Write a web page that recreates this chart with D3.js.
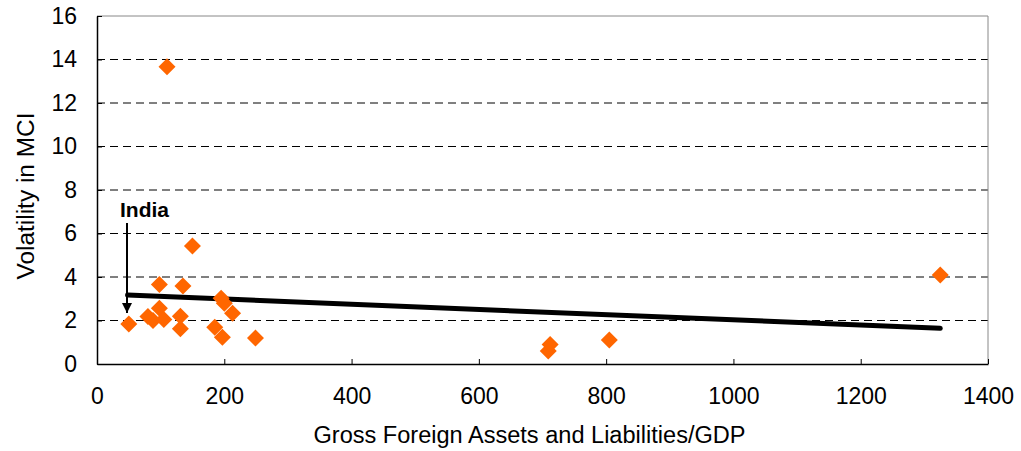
<!DOCTYPE html>
<html>
<head>
<meta charset="utf-8">
<script src="https://cdn.jsdelivr.net/npm/d3@7"></script>
<style>
  body { margin: 0; background: #fff; }
  text { font-family: "Liberation Sans", Arial, sans-serif; }
</style>
</head>
<body>
<div id="chart"></div>
<script>
// Gross foreign assets+liabilities / GDP vs volatility in MCI
const grossFA = [50, 80, 88, 98, 105, 98, 135, 131, 131, 150, 195, 200, 213, 185, 197, 249, 110, 709, 712, 805, 1325];
const volatility = [1.84, 2.18, 2.0, 2.56, 2.05, 3.66, 3.59, 2.2, 1.62, 5.43, 3.02, 2.79, 2.33, 1.69, 1.23, 1.2, 13.67, 0.6, 0.9, 1.1, 4.09];

// trend line end points
const trendX = [48, 1325];
const trendY = [3.17, 1.64];

const xTicks = [0, 200, 400, 600, 800, 1000, 1200, 1400];
const yTicks = [0, 2, 4, 6, 8, 10, 12, 14, 16];

const width = 1021, height = 451;
const margin = { top: 16, right: 33, bottom: 87, left: 97 };

const svg = d3.select("#chart")
    .append("svg")
    .attr("width", width)
    .attr("height", height);

const x = d3.scaleLinear().domain([0, 1400]).range([margin.left, width - margin.right]);
const y = d3.scaleLinear().domain([0, 16]).range([height - margin.bottom, margin.top]);

// Grid lines
svg.append("g")
    .selectAll("line")
    .data(yTicks.filter(d => d > 0 && d < 16))
    .join("line")
    .attr("x1", x(0))
    .attr("x2", x(1400))
    .attr("y1", d => y(d))
    .attr("y2", d => y(d))
    .attr("stroke", "#000")
    .attr("stroke-width", 1)
    .attr("stroke-dasharray", "8,5");

// top and right frame
svg.append("path")
    .attr("d", `M${x(0)},${y(16)}H${x(1400)}V${y(0)}`)
    .attr("fill", "none")
    .attr("stroke", "#888")
    .attr("stroke-width", 1);

// Axes
const xAxis = svg.append("g")
    .attr("transform", `translate(0,${y(0)})`)
    .call(d3.axisBottom(x).tickValues(xTicks).tickFormat(d3.format("d"))
        .tickSizeInner(-5).tickSizeOuter(0).tickPadding(24));

const yAxis = svg.append("g")
    .attr("transform", `translate(${x(0)},0)`)
    .call(d3.axisLeft(y).tickValues(yTicks).tickFormat(d3.format("d"))
        .tickSizeInner(-5).tickSizeOuter(0).tickPadding(20));

[xAxis, yAxis].forEach(g => {
    g.select(".domain").attr("stroke", "#000").attr("stroke-width", 1.5);
    g.selectAll(".tick line").attr("stroke", "#000");
    g.selectAll(".tick text")
        .attr("font-family", "Liberation Sans, Arial, sans-serif")
        .attr("font-size", 23)
        .attr("fill", "#000");
});

// Axis titles
svg.append("text")
    .attr("x", (x(0) + x(1400)) / 2 - 13)
    .attr("y", 443)
    .attr("text-anchor", "middle")
    .attr("font-size", 23)
    .attr("textLength", 432)
    .attr("lengthAdjust", "spacingAndGlyphs")
    .text("Gross Foreign Assets and Liabilities/GDP");

svg.append("text")
    .attr("transform", `translate(34,${(y(0) + y(16)) / 2 + 6}) rotate(-90)`)
    .attr("text-anchor", "middle")
    .attr("font-size", 23)
    .attr("textLength", 167)
    .attr("lengthAdjust", "spacingAndGlyphs")
    .text("Volatility in MCI");

// Trend line
svg.append("line")
    .attr("x1", x(trendX[0]))
    .attr("y1", y(trendY[0]))
    .attr("x2", x(trendX[1]))
    .attr("y2", y(trendY[1]))
    .attr("stroke", "#000")
    .attr("stroke-width", 5)
    .attr("stroke-linecap", "round");

// Points
const pts = grossFA.map((g, i) => ({ g, v: volatility[i] }));
svg.append("g")
    .selectAll("path")
    .data(pts)
    .join("path")
    .attr("transform", d => `translate(${x(d.g)},${y(d.v)})`)
    .attr("d", "M0,-8.5L8.5,0L0,8.5L-8.5,0Z")
    .attr("fill", "#ff6600");

// India annotation
svg.append("defs").append("marker")
    .attr("id", "arrow")
    .attr("viewBox", "0 0 10 10")
    .attr("refX", 10)
    .attr("refY", 5)
    .attr("markerWidth", 5.5)
    .attr("markerHeight", 5)
    .attr("markerUnits", "strokeWidth")
    .attr("orient", "auto")
    .append("path")
    .attr("d", "M0,0L10,5L0,10Z")
    .attr("fill", "#000");

svg.append("line")
    .attr("x1", 127)
    .attr("y1", 223)
    .attr("x2", 127)
    .attr("y2", 313)
    .attr("stroke", "#000")
    .attr("stroke-width", 2)
    .attr("marker-end", "url(#arrow)");

svg.append("text")
    .attr("x", 120)
    .attr("y", 217)
    .attr("font-size", 21)
    .attr("font-weight", "bold")
    .text("India");
</script>
</body>
</html>
